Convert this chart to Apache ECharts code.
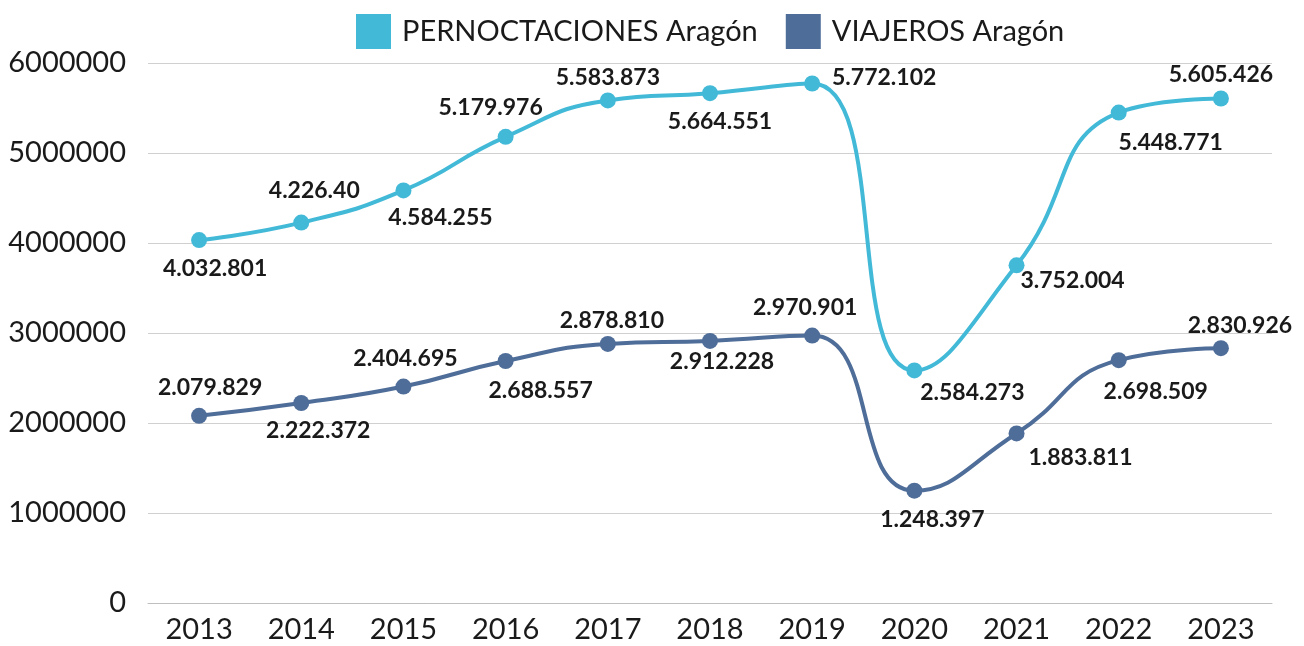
<!DOCTYPE html>
<html>
<head>
<meta charset="utf-8">
<script src="https://cdn.jsdelivr.net/npm/echarts@6/dist/echarts.min.js"></script>
<style>
  html, body { margin: 0; padding: 0; background: #fff; }
  #chart { width: 1304px; height: 646px; }
</style>
</head>
<body>
<div id="chart"></div>
<script>
var years = ['2013', '2014', '2015', '2016', '2017', '2018', '2019', '2020', '2021', '2022', '2023'];
var pernoctaciones = [4032801, 4226400, 4584255, 5179976, 5583873, 5664551, 5772102, 2584273, 3752004, 5448771, 5605426];
var viajeros = [2079829, 2222372, 2404695, 2688557, 2878810, 2912228, 2970901, 1248397, 1883811, 2698509, 2830926];
// label text as printed in the source (2014 is cut short there)
var pernLabels = ['4.032.801', '4.226.40', '4.584.255', '5.179.976', '5.583.873', '5.664.551', '5.772.102', '2.584.273', '3.752.004', '5.448.771', '5.605.426'];
var viajLabels = ['2.079.829', '2.222.372', '2.404.695', '2.688.557', '2.878.810', '2.912.228', '2.970.901', '1.248.397', '1.883.811', '2.698.509', '2.830.926'];

// where each label sits relative to its point
var pernOffsets = [[16, 29], [13, -32], [37, 27], [-15, -29], [0, -23], [10, 28], [72, -6], [58, 22], [56, 15], [52, 30], [0, -24]];
var viajOffsets = [[11, -28], [17, 28], [2, -28], [35, 30], [4, -23], [12, 21], [-7, -28], [18, 29], [64, 24], [37, 31], [19, -23]];

var chart = echarts.init(document.getElementById('chart'));

function buildData(values, texts, offsets) {
  return values.map(function (v, i) {
    return {
      value: v,
      label: { offset: offsets[i], formatter: texts[i] }
    };
  });
}

var labelStyle = {
  show: true,
  position: 'inside',
  color: '#1a1a1a',
  fontFamily: 'Lato',
  fontWeight: 'bold',
  fontSize: 23
};

var option = {
  textStyle: { fontFamily: 'Lato' },
  color: ['#43B9D8', '#4F6D99'],
  legend: {
    top: 9,
    left: 351,
    icon: 'rect',
    itemWidth: 35,
    itemHeight: 35,
    itemGap: 28,
    textStyle: { fontSize: 29, color: '#1a1a1a', fontFamily: 'Lato', padding: [0, 0, 0, 6] },
    data: ['PERNOCTACIONES Aragón', 'VIAJEROS Aragón']
  },
  grid: {
    left: 148,
    right: 32,
    top: 63,
    bottom: 43
  },
  xAxis: {
    type: 'category',
    data: years,
    boundaryGap: true,
    axisTick: { show: false },
    axisLine: { lineStyle: { color: '#bfbfbf', width: 1 } },
    axisLabel: { color: '#1a1a1a', fontSize: 29, margin: 12, fontFamily: 'Lato' }
  },
  yAxis: {
    type: 'value',
    min: 0,
    max: 6000000,
    interval: 1000000,
    axisLine: { show: false },
    axisTick: { show: false },
    splitLine: { lineStyle: { color: '#d0d0d0', width: 1 } },
    axisLabel: {
      color: '#1a1a1a',
      fontSize: 29,
      margin: 22,
      fontFamily: 'Lato',
      formatter: function (v) { return String(v); }
    }
  },
  series: [
    {
      name: 'PERNOCTACIONES Aragón',
      type: 'line',
      smooth: 0.5,
      symbol: 'circle',
      symbolSize: 16,
      lineStyle: { width: 4 },
      label: labelStyle,
      data: buildData(pernoctaciones, pernLabels, pernOffsets)
    },
    {
      name: 'VIAJEROS Aragón',
      type: 'line',
      smooth: 0.5,
      symbol: 'circle',
      symbolSize: 16,
      lineStyle: { width: 4 },
      label: labelStyle,
      data: buildData(viajeros, viajLabels, viajOffsets)
    }
  ]
};

chart.setOption(option);
</script>
</body>
</html>
